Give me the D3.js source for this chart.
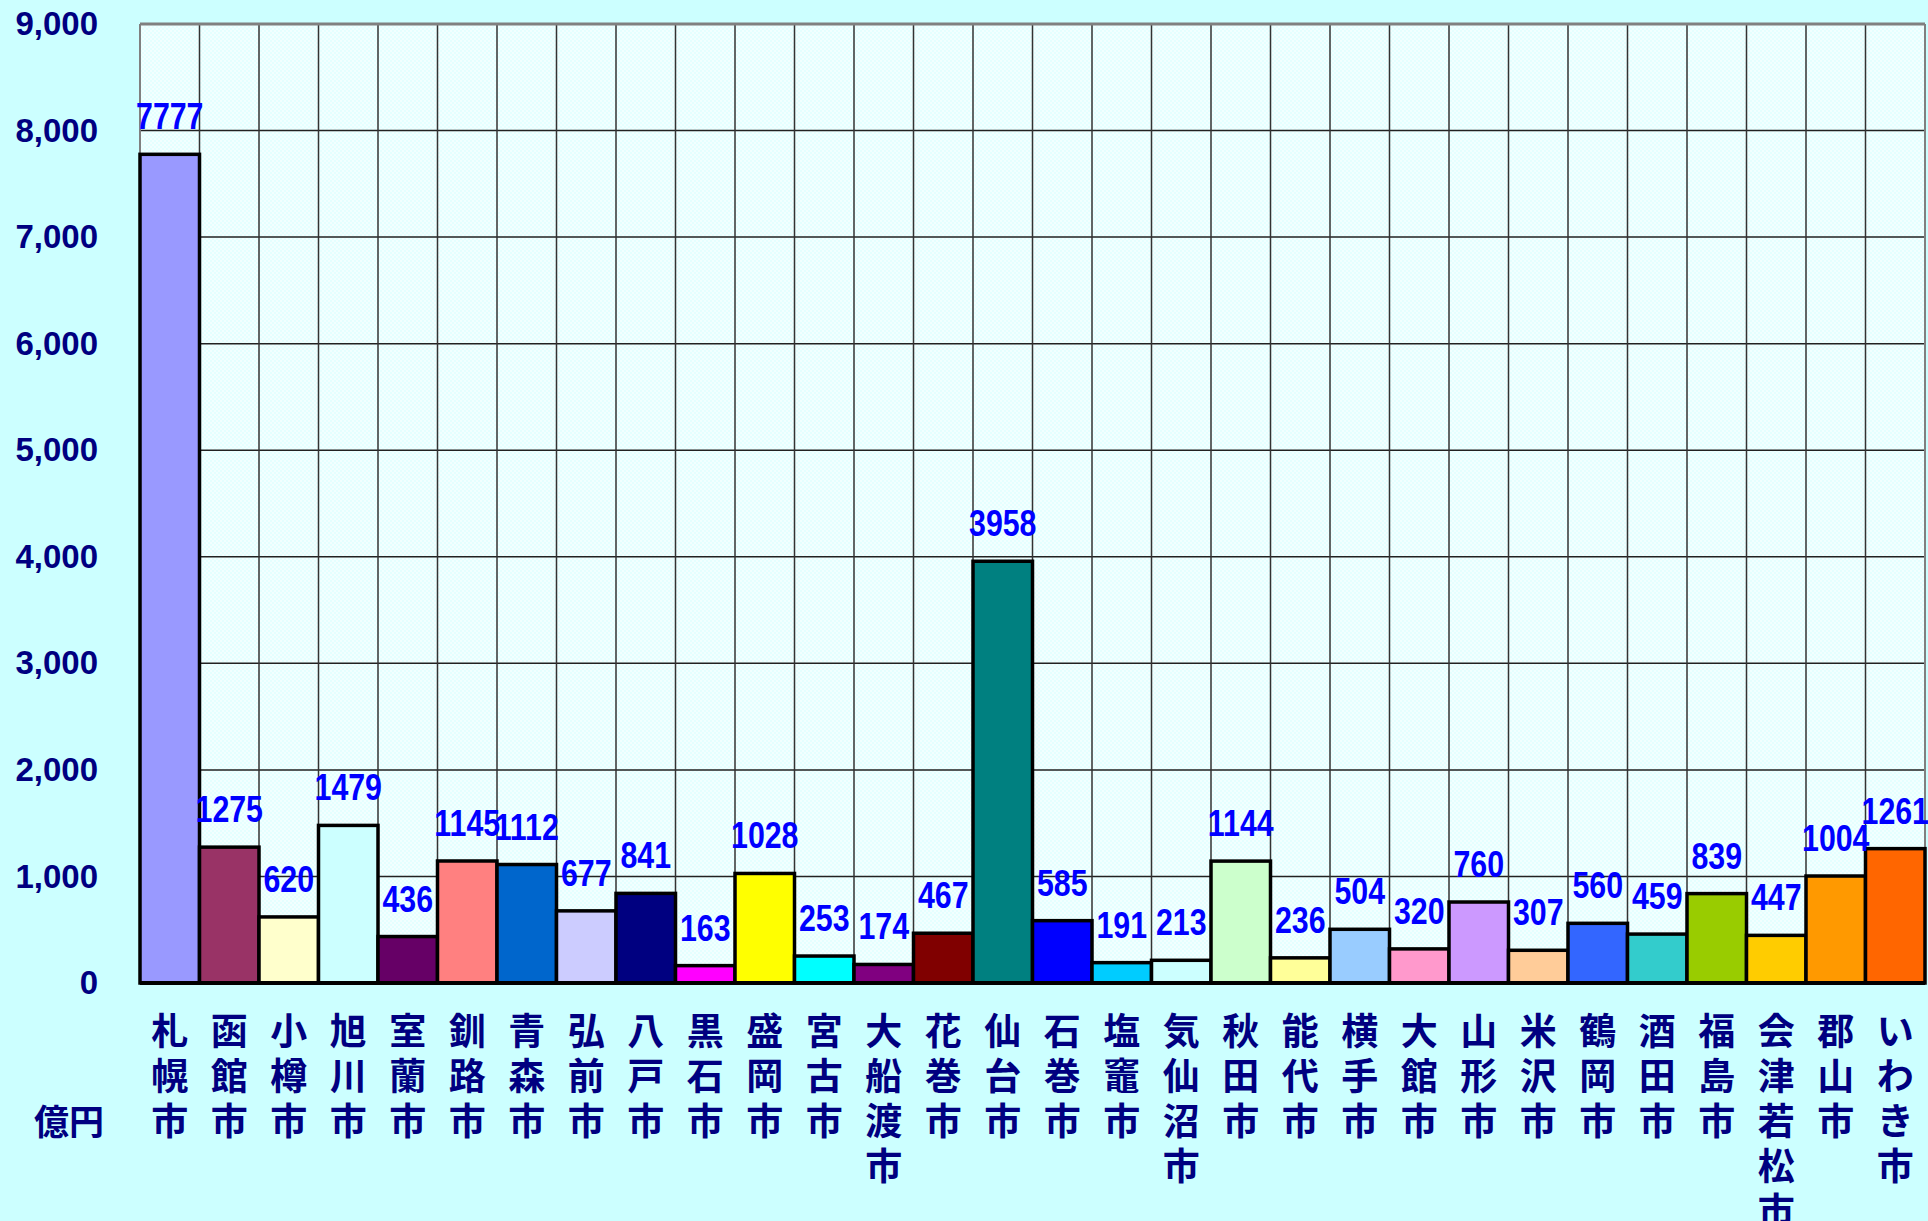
<!DOCTYPE html>
<html>
<head>
<meta charset="utf-8">
<script src="https://cdnjs.cloudflare.com/ajax/libs/d3/7.8.5/d3.min.js"></script>
<style>
body { margin: 0; background: #CCFFFF; }
</style>
</head>
<body>
<svg></svg>
<script>
var cities = ["札幌市","函館市","小樽市","旭川市","室蘭市","釧路市","青森市","弘前市","八戸市","黒石市",
  "盛岡市","宮古市","大船渡市","花巻市","仙台市","石巻市","塩竈市","気仙沼市","秋田市","能代市",
  "横手市","大館市","山形市","米沢市","鶴岡市","酒田市","福島市","会津若松市","郡山市","いわき市"];
var values = [7777,1275,620,1479,436,1145,1112,677,841,163,
  1028,253,174,467,3958,585,191,213,1144,236,
  504,320,760,307,560,459,839,447,1004,1261];
var colors = ["#9999FF","#993366","#FFFFCC","#CCFFFF","#660066","#FF8080","#0066CC","#CCCCFF","#000080","#FF00FF",
  "#FFFF00","#00FFFF","#800080","#800000","#008080","#0000FF","#00CCFF","#CCFFFF","#CCFFCC","#FFFF99",
  "#99CCFF","#FF99CC","#CC99FF","#FFCC99","#3366FF","#33CCCC","#99CC00","#FFCC00","#FF9900","#FF6600"];
var yTicks = [0,1000,2000,3000,4000,5000,6000,7000,8000,9000];
var unit = "億円";

var svgWidth = 1928, svgHeight = 1221;
var plotLeft = 140, plotRight = 1925, plotTop = 24, plotBottom = 983;

var svg = d3.select("svg")
    .attr("width", svgWidth)
    .attr("height", svgHeight);

svg.append("rect")
    .attr("width", "100%")
    .attr("height", "100%")
    .attr("fill", "#CCFFFF");

// checker pattern for plot area
var pat = svg.append("defs").append("pattern")
    .attr("id", "chk")
    .attr("width", 4).attr("height", 4)
    .attr("patternUnits", "userSpaceOnUse");
pat.append("rect").attr("width", 4).attr("height", 4).attr("fill", "#E4FFFF");
pat.append("rect").attr("width", 2).attr("height", 2).attr("fill", "#F2FFFF");
pat.append("rect").attr("x", 2).attr("y", 2).attr("width", 2).attr("height", 2).attr("fill", "#F2FFFF");

var xScale = d3.scaleBand()
    .domain(cities)
    .range([plotLeft, plotRight])
    .padding(0);

var yScale = d3.scaleLinear()
    .domain([0, 9000])
    .range([plotBottom, plotTop]);

svg.append("rect")
    .attr("x", plotLeft).attr("y", plotTop)
    .attr("width", plotRight - plotLeft).attr("height", plotBottom - plotTop)
    .attr("fill", "url(#chk)");

// horizontal grid
svg.append("g")
    .selectAll("line")
    .data(yTicks.slice(1))
    .join("line")
    .attr("x1", plotLeft).attr("x2", plotRight)
    .attr("y1", d => yScale(d)).attr("y2", d => yScale(d))
    .style("stroke", "#222")
    .style("stroke-width", 1.5);

// vertical grid
svg.append("g")
    .selectAll("line")
    .data(cities.slice(1))
    .join("line")
    .attr("x1", d => xScale(d)).attr("x2", d => xScale(d))
    .attr("y1", plotTop).attr("y2", plotBottom)
    .style("stroke", "#333")
    .style("stroke-width", 1.5);

// frame
svg.append("line").attr("x1", plotLeft).attr("x2", plotRight).attr("y1", plotTop).attr("y2", plotTop)
    .style("stroke", "#808080").style("stroke-width", 3);
svg.append("line").attr("x1", plotRight).attr("x2", plotRight).attr("y1", plotTop).attr("y2", plotBottom)
    .style("stroke", "#808080").style("stroke-width", 2);
svg.append("line").attr("x1", plotLeft).attr("x2", plotLeft).attr("y1", plotTop).attr("y2", plotBottom)
    .style("stroke", "#808080").style("stroke-width", 2);

// bars
svg.append("g")
    .selectAll("rect")
    .data(values)
    .join("rect")
    .attr("x", (d, i) => xScale(cities[i]))
    .attr("y", d => yScale(d))
    .attr("width", xScale.bandwidth())
    .attr("height", d => plotBottom - yScale(d))
    .attr("fill", (d, i) => colors[i])
    .style("stroke", "black")
    .style("stroke-width", 3.5);

// baseline
svg.append("line").attr("x1", plotLeft).attr("x2", plotRight).attr("y1", plotBottom).attr("y2", plotBottom)
    .style("stroke", "black").style("stroke-width", 4);

// value labels (narrow, tall digits)
svg.append("g")
    .selectAll("text")
    .data(values)
    .join("text")
    .attr("transform", (d, i) => "translate(" + (xScale(cities[i]) + xScale.bandwidth() / 2) + "," + (yScale(d) - 25) + ") scale(0.82,1)")
    .attr("text-anchor", "middle")
    .style("font-family", "'Liberation Sans', Arial, sans-serif")
    .style("font-weight", "bold")
    .style("font-size", "37px")
    .attr("fill", "#0000FF")
    .text(d => d);

// y axis
var y_axis = d3.axisLeft(yScale)
    .tickValues(yTicks)
    .tickFormat(d3.format(","))
    .tickSize(0)
    .tickPadding(42);

var gy = svg.append("g")
    .attr("transform", "translate(" + plotLeft + ",0)")
    .call(y_axis);
gy.select(".domain").remove();
gy.selectAll("text")
    .style("font-family", "'Liberation Sans', Arial, sans-serif")
    .style("font-weight", "bold")
    .style("font-size", "33px")
    .attr("fill", "#000080");

// category labels, stacked vertically
var cat = svg.append("g")
    .selectAll("text")
    .data(cities)
    .join("text")
    .attr("text-anchor", "middle")
    .style("font-family", "'Noto Sans CJK JP', sans-serif")
    .style("font-weight", "bold")
    .style("font-size", "37px")
    .attr("fill", "#000080");
cat.each(function(c) {
    var t = d3.select(this);
    var cx = xScale(c) + xScale.bandwidth() / 2;
    Array.from(c).forEach(function(ch, j) {
        t.append("tspan")
            .attr("x", cx)
            .attr("y", 1045 + j * 45)
            .text(ch);
    });
});

svg.append("text")
    .attr("x", 104)
    .attr("y", 1135)
    .attr("text-anchor", "end")
    .style("font-family", "'Noto Sans CJK JP', sans-serif")
    .style("font-weight", "bold")
    .style("font-size", "35px")
    .attr("fill", "#000080")
    .text(unit);
</script>
</body>
</html>
